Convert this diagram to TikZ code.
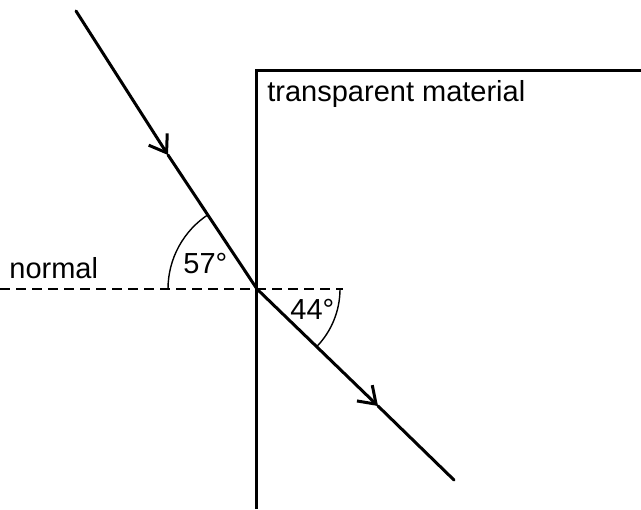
\documentclass[tikz,border=0pt]{standalone}
\usepackage{fontspec}
\setmainfont{Liberation Sans}
\usepackage{tikz}
\usetikzlibrary{arrows.meta, positioning}

\begin{document}
\begin{tikzpicture}[
    x=0.5pt, y=0.5pt,
    ray/.style={line width=1.5pt, line cap=round},
    raytip/.style={ray, -{Straight Barb[length=8pt, width=11pt]}},
    wall/.style={line width=1.5pt},
    normalline/.style={line width=0.8pt, dash pattern=on 5pt off 3pt},
    anglearc/.style={line width=0.7pt},
    lbl/.style={inner sep=0pt, anchor=base west, font=\fontsize{14.5}{17}\selectfont}
]
\useasboundingbox (0,0) rectangle (641,509);

\coordinate (A) at (76,498);
\coordinate (O) at (257,220);
\coordinate (B) at (454,29);
\coordinate (inarrow) at (168,354);
\coordinate (outarrow) at (378,103);

% block of material
\draw [wall] (256,0) -- (256,438) -- (642,438);
\node (material) [lbl] at (267,407) {transparent material};

% normal
\coordinate (nleft) at (0,220);
\coordinate (nright) at (343,220);
\draw [normalline] (nleft) -- (nright);
\node (normal) [lbl] at (9,231) {normal};

% rays
\draw [raytip] (A) -- (inarrow);
\draw [ray] (inarrow) -- (O);
\draw [raytip] (O) -- (outarrow);
\draw [ray] (outarrow) -- (B);

% angles
\draw [anglearc] ([xshift=-44.5pt]O) arc (180:123:89);
\draw [anglearc] ([xshift=41.5pt]O) arc (0:-44:83);
\node (incangle) [lbl] at (183,236) {57°};
\node (refangle) [lbl] at (290,190) {44°};

\end{tikzpicture}
\end{document}
